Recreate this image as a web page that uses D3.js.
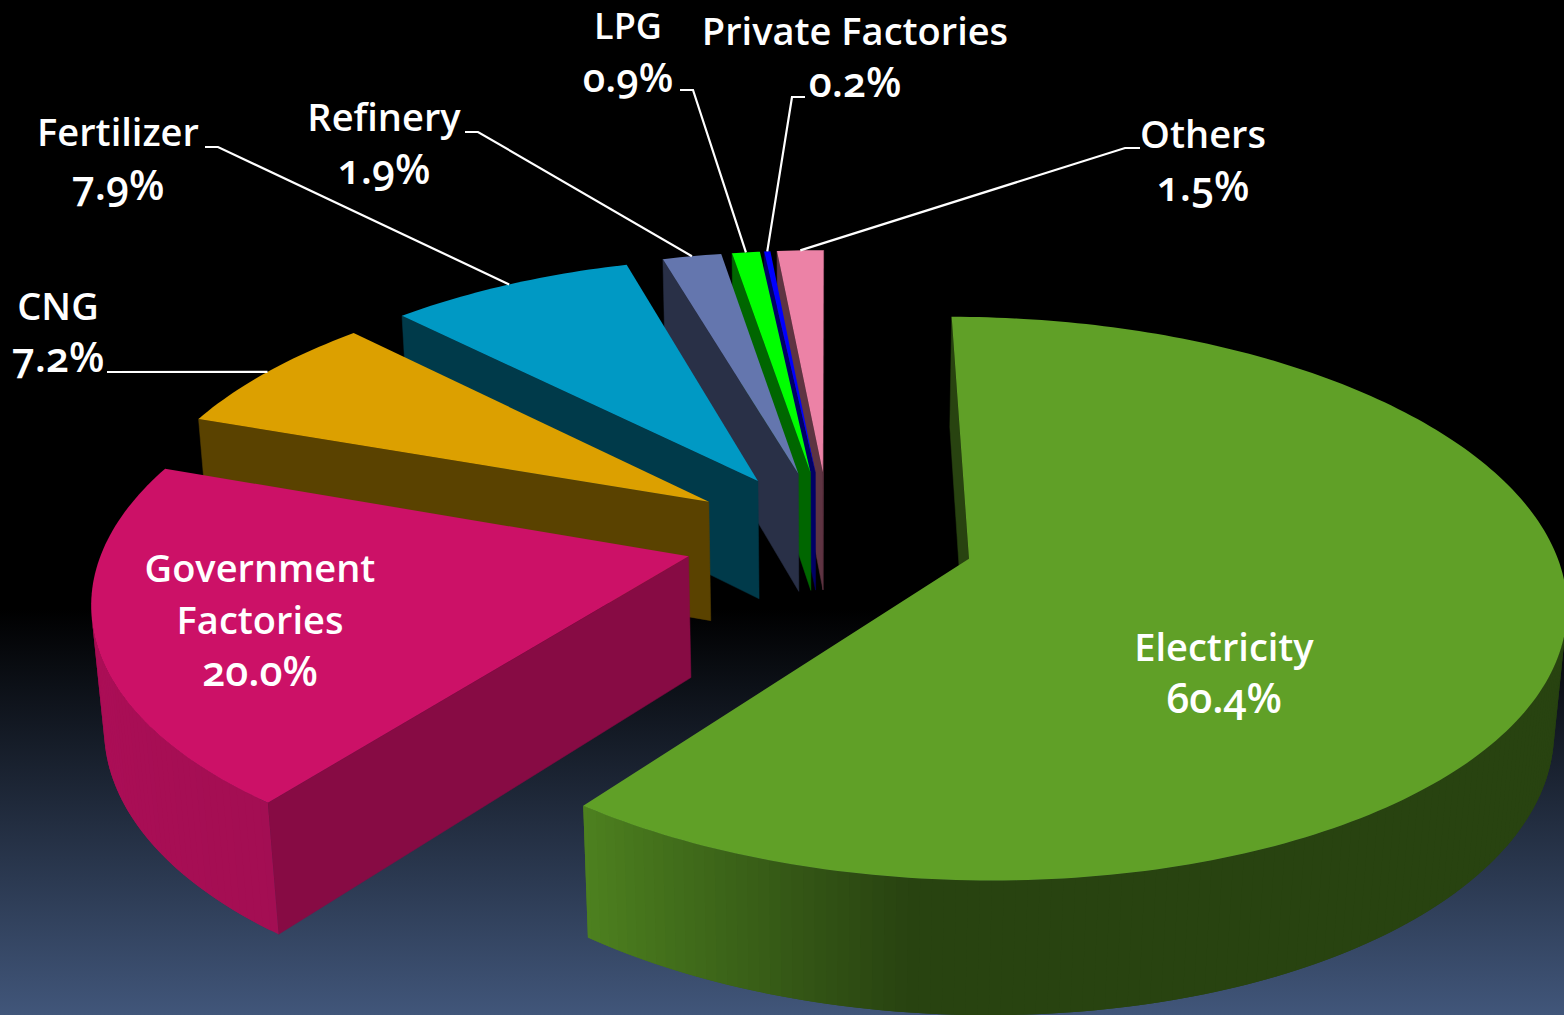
<!DOCTYPE html>
<html>
<head>
<meta charset="utf-8">
<script src="https://cdn.jsdelivr.net/npm/d3@7"></script>
<style>
    html, body { margin: 0; padding: 0; background: #000; overflow: hidden; }
    text { font-family: "Open Sans", sans-serif; font-weight: 600; fill: #fff; font-variant-numeric: oldstyle-nums; font-feature-settings: "onum" 1; }
</style>
</head>
<body>
<svg id="chart"></svg>
<script>
const categories = ["Electricity", "Government Factories", "CNG", "Fertilizer", "Refinery", "LPG", "Private Factories", "Others"];
const shares = [60.4, 20.0, 7.2, 7.9, 1.9, 0.9, 0.2, 1.5];
const shareLabels = ["60.4%", "20.0%", "7.2%", "7.9%", "1.9%", "0.9%", "0.2%", "1.5%"];

const sliceColors = ["#60a027", "#cc1167", "#dca000", "#0099c4", "#6476ae", "#00ff00", "#0000ff", "#ec82a6"];
const wallTones = [0.42, 0.66, 0.41, 0.38, 0.41, 0.4, 0.4, 0.4];

// label anchors: centre x, baseline of the name, baseline of the share, leader elbow
const labelLines = [["Electricity"], ["Government", "Factories"], ["CNG"], ["Fertilizer"], ["Refinery"], ["LPG"], ["Private Factories"], ["Others"]];
const labelX = [1224, 260, 58, 118, 384, 628, 855, 1203];
const labelY = [661, 582, 320, 146, 131, 38.6, 45, 148];
const shareY = [713, 686, 372, 200, 184, 92, 97, 201];
const nameSizes = [38, 38, 38, 38, 38, 36, 38, 38];
const shareSizes = [41, 41, 41, 41, 41, 40, 41, 41];
const leaderStart = [null, null, [107, 372], [205, 147], [465, 132], [680, 90], [805, 97], [1140, 148]];
const leaderElbow = [null, null, [107, 372], [218, 147], [478, 132], [693, 90], [792, 97], [1125, 148]];

const width = 1564, height = 1015;
const lineGap = 52;

// camera for the tilted pie, radius is 1
const cx = 829.5, cy = 537;
const focal = 3722, dist = 6.34;
const elev = Math.asin(0.46);
const explode = 0.248, thick = 0.235;
const squeezeX = 0.992;

const project = (u, v, z) => {
    const d = dist + v * Math.cos(elev) - z * Math.sin(elev);
    return [cx + focal * u / d, cy - focal * (v * Math.sin(elev) + z * Math.cos(elev)) / d];
};
const camera = [0, -dist * Math.cos(elev), dist * Math.sin(elev)];

const svg = d3.select("#chart").attr("width", width).attr("height", height);

const defs = svg.append("defs");
const bg = defs.append("linearGradient").attr("id", "bg").attr("x1", 0).attr("y1", 0).attr("x2", 0).attr("y2", 1);
bg.append("stop").attr("offset", "0.6").attr("stop-color", "#000");
bg.append("stop").attr("offset", "1").attr("stop-color", "#41567a");
svg.append("rect").attr("width", width).attr("height", height).attr("fill", "url(#bg)");

const pie = d3.pie().sort(null).startAngle(0).endAngle(2 * Math.PI);
const arcs = pie(shares);

const outerTone = d3.scaleLinear()
    .domain([187, 217, 290])
    .range([0.42, 0.8, 0.88])
    .clamp(true);

const line = d3.line();
const worldXY = (slice, a, r) => {
    const mid = (slice.startAngle + slice.endAngle) / 2;
    return [
        explode * Math.sin(mid) + squeezeX * r * Math.sin(a),
        explode * Math.cos(mid) + r * Math.cos(a)
    ];
};
const polar = (slice, a, r, z) => {
    const [u, v] = worldXY(slice, a, r);
    return project(u, v, z);
};
const facesCamera = (nu, nv, p) => nu * (camera[0] - p[0]) + nv * (camera[1] - p[1]) > 0;

const drawSlice = (g, slice, i) => {
    const color = d3.rgb(sliceColors[i]);
    const tone = k => d3.rgb(color.r * k, color.g * k, color.b * k).formatHex();
    const steps = d3.range(slice.startAngle, slice.endAngle, Math.PI / 180).concat(slice.endAngle);

    // radial walls
    [[slice.startAngle, -Math.PI / 2], [slice.endAngle, Math.PI / 2]].forEach(([a, turn]) => {
        if (!facesCamera(Math.sin(a + turn), Math.cos(a + turn), worldXY(slice, a, 1))) return;
        g.append("path")
         .attr("d", line([polar(slice, a, 0, 0), polar(slice, a, 1, 0), polar(slice, a, 1, -thick), polar(slice, a, 0, -thick)]) + "Z")
         .attr("fill", tone(wallTones[i]))
         .attr("stroke", tone(wallTones[i]))
         .attr("stroke-width", 0.5);
    });

    // outer wall, one strip per degree so the shade can change.
    // each strip runs under the next one so no seams show
    const strips = d3.pairs(steps).filter(([a, b]) => {
        const m = (a + b) / 2;
        return facesCamera(Math.sin(m), Math.cos(m), worldXY(slice, m, 1));
    });
    strips.forEach(([a, b], k) => {
        const m = (a + b) / 2;
        const end = k + 1 < strips.length ? strips[k + 1][1] : b;
        g.append("path")
         .attr("d", line([polar(slice, a, 1, 0), polar(slice, end, 1, 0), polar(slice, end, 1, -thick), polar(slice, a, 1, -thick)]) + "Z")
         .attr("fill", tone(outerTone(m * 180 / Math.PI)));
    });

    // top
    const rim = steps.map(a => polar(slice, a, 1, 0));
    g.append("path")
     .attr("d", line([polar(slice, 0, 0, 0), ...rim]) + "Z")
     .attr("fill", sliceColors[i]);
};

// far slices first
const drawOrder = [7, 6, 5, 4, 3, 2, 1, 0];
const pieLayer = svg.append("g");
drawOrder.forEach(i => drawSlice(pieLayer.append("g"), arcs[i], i));

// leaders
const leaderLayer = svg.append("g");
arcs.forEach((slice, i) => {
    if (!leaderStart[i]) return;
    const mid = (slice.startAngle + slice.endAngle) / 2;
    leaderLayer.append("path")
        .attr("d", line([leaderStart[i], leaderElbow[i], polar(slice, mid, 1, 0)]))
        .attr("fill", "none")
        .attr("stroke", "#fff")
        .attr("stroke-width", 2.2);
});

// labels
const labelLayer = svg.append("g").attr("text-anchor", "middle");
categories.forEach((name, i) => {
    labelLayer.selectAll(null)
        .data(labelLines[i])
        .enter()
        .append("text")
        .attr("font-size", nameSizes[i])
        .attr("x", labelX[i])
        .attr("y", (_, k) => labelY[i] + k * lineGap)
        .text(d => d);
    labelLayer.append("text")
        .attr("font-size", shareSizes[i])
        .attr("x", labelX[i])
        .attr("y", shareY[i])
        .text(shareLabels[i]);
});
</script>
</body>
</html>
